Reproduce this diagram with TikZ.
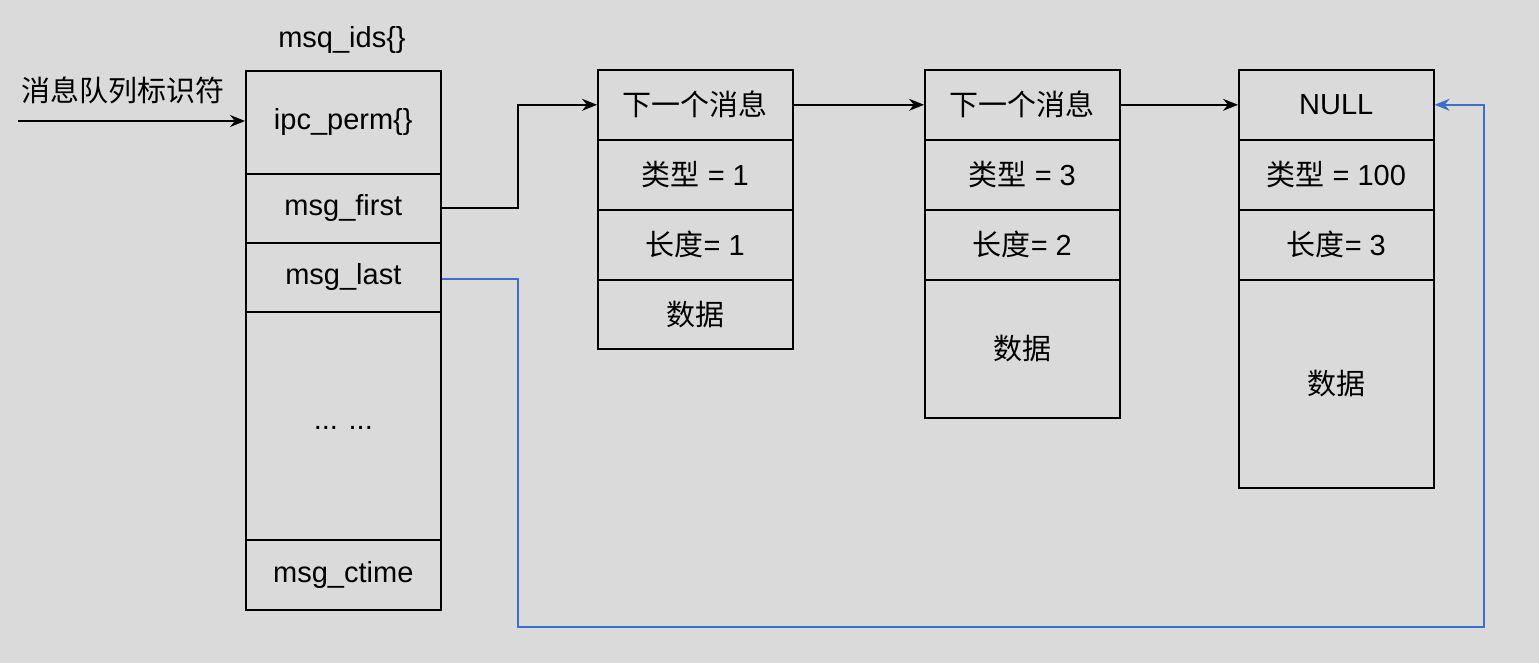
\documentclass[tikz,border=0pt]{standalone}
\usepackage{fontspec}
\setmainfont{Liberation Sans}
\newfontfamily\cjk{Noto Sans CJK SC}
\usetikzlibrary{arrows.meta}
\definecolor{bg}{HTML}{DADADA}
\definecolor{bl}{HTML}{3B6FCB}
\begin{document}
\begin{tikzpicture}[x=1pt,y=-1pt,
 cell/.style={draw=black,line width=1.6pt,minimum width=195pt,inner sep=0pt,font=\fontsize{29}{34}\selectfont,anchor=north west},
 arr/.style={line width=1.6pt,-{Stealth[length=15pt,width=12pt]}},
 lbl/.style={font=\fontsize{29}{34}\selectfont}]
\fill[bg] (0,0) rectangle (1539,663);
\useasboundingbox (0,0) rectangle (1539,663);
% msg_ids
\node[lbl] (title) at (342,40) {msq\_ids\{\}};
\node[lbl] (qid) at (123,90) {\cjk 消息队列标识符};
\coordinate (qs) at (18,121);
\node[cell,minimum height=103pt] (perm) at (245,70) {ipc\_perm\{\}};
\node[cell,minimum height=69pt] (first) at (245,173) {msg\_first};
\node[cell,minimum height=69pt] (last) at (245,242) {msg\_last};
\node[cell,minimum height=228pt] (dots) at (245,311) {\raisebox{-8pt}{... ...}};
\node[cell,minimum height=70pt] (ctime) at (245,539) {msg\_ctime};
\draw[arr] (qs) -- (qs -| perm.west);
% box2
\node[cell,minimum height=70pt] (a1) at (597,69) {\cjk 下一个消息};
\node[cell,minimum height=70pt] (a2) at (597,139) {{\cjk 类型} = 1};
\node[cell,minimum height=70pt] (a3) at (597,209) {{\cjk 长度}= 1};
\node[cell,minimum height=69pt] (a4) at (597,279) {\cjk 数据};
% box3
\node[cell,minimum height=70pt] (b1) at (924,69) {\cjk 下一个消息};
\node[cell,minimum height=70pt] (b2) at (924,139) {{\cjk 类型} = 3};
\node[cell,minimum height=70pt] (b3) at (924,209) {{\cjk 长度}= 2};
\node[cell,minimum height=138pt] (b4) at (924,279) {\cjk 数据};
% box4
\node[cell,minimum height=70pt] (c1) at (1238,69) {NULL};
\node[cell,minimum height=70pt] (c2) at (1238,139) {{\cjk 类型} = 100};
\node[cell,minimum height=70pt] (c3) at (1238,209) {{\cjk 长度}= 3};
\node[cell,minimum height=208pt] (c4) at (1238,279) {\cjk 数据};
% arrows
\coordinate (fj) at (518,208);
\draw[arr] (first.east |- fj) -- (fj) |- (a1.west);
\draw[arr] (a1) -- (b1);
\draw[arr] (b1) -- (c1);
\coordinate (lj) at (518,279);
\draw[arr,bl] (last.east |- lj) -- (lj) -- (518,627) -- (1484,627) |- (c1.east);
\end{tikzpicture}
\end{document}
